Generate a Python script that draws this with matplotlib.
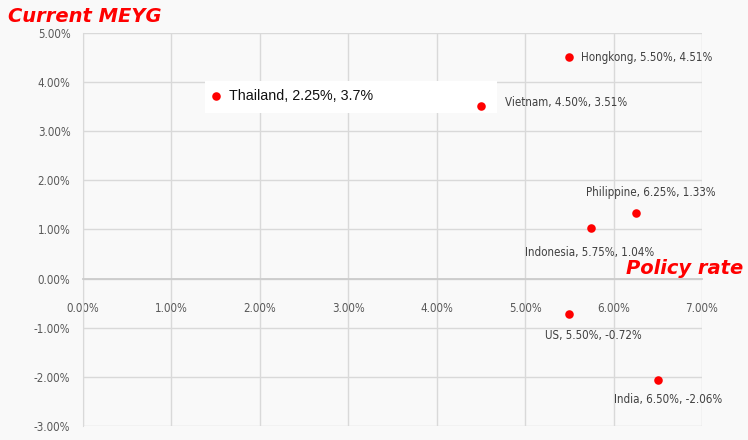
import matplotlib
matplotlib.use('Agg')
import matplotlib.pyplot as plt
from matplotlib.ticker import FuncFormatter

# data (policy rate %, current MEYG %)
countries = ['Hongkong', 'Vietnam', 'Thailand', 'Philippine', 'Indonesia', 'US', 'India']
policy_rate = [5.50, 4.50, 1.50, 6.25, 5.75, 5.50, 6.50]
meyg = [4.51, 3.51, 3.72, 1.33, 1.04, -0.72, -2.06]
labels = ['Hongkong, 5.50%, 4.51%', 'Vietnam, 4.50%, 3.51%', 'Thailand, 2.25%, 3.7%',
          'Philippine, 6.25%, 1.33%', 'Indonesia, 5.75%, 1.04%', 'US, 5.50%, -0.72%',
          'India, 6.50%, -2.06%']

# label offsets in pixels (dx, dy) and alignment
offsets = [(12, 0, 'left'), (24, 4, 'left'), (13, 0, 'left'), (15, 21, 'center'),
           (-2, -25, 'center'), (24, -22, 'center'), (10, -20, 'center')]

bg = '#f9f9f9'
grid_col = '#d9d9d9'
tick_col = '#595959'

fig = plt.figure(figsize=(7.48, 4.40), dpi=100, facecolor=bg)
ax = fig.add_axes([83/748, 1-426/440, (702-83)/748, (426-33)/440], facecolor=bg)

ax.scatter(policy_rate, meyg, s=38, color='#ff0000', zorder=5, linewidths=0)

for i in range(len(countries)):
	dx, dy, ha = offsets[i]
	if countries[i] == 'Thailand':
		ax.annotate(labels[i], (policy_rate[i], meyg[i]), xytext=(dx, dy),
		            textcoords='offset pixels', ha=ha, va='center',
		            fontsize=10.3, family='Liberation Sans', color='#111111', zorder=6)
	else:
		ax.annotate(labels[i], (policy_rate[i], meyg[i]), xytext=(dx, dy),
		            textcoords='offset pixels', ha=ha, va='center',
		            fontsize=8.3, family='DejaVu Sans', stretch='condensed',
		            color='#404040', zorder=6)

# white patch behind the Thailand label (as in the source image)
ax.add_patch(plt.Rectangle((205/748, 1-113/440), (497-205)/748, 32/440,
                           transform=fig.transFigure, facecolor='white',
                           edgecolor='none', zorder=4, clip_on=False))

ax.set_xlim(0, 7)
ax.set_ylim(-3, 5)
ax.set_xticks(range(0, 8))
ax.set_yticks(range(-3, 6))
pct = FuncFormatter(lambda v, p: '%.2f%%' % v)
ax.xaxis.set_major_formatter(pct)
ax.yaxis.set_major_formatter(pct)

ax.grid(True, color=grid_col, lw=1.0)
ax.set_axisbelow(True)
for s in ['top', 'right']:
	ax.spines[s].set_visible(False)
ax.spines['left'].set_color(grid_col)
ax.spines['bottom'].set_position(('data', 0))
ax.spines['bottom'].set_color('#cccccc')
ax.spines['bottom'].set_linewidth(1.3)

ax.tick_params(axis='both', length=0, colors=tick_col, labelsize=8.3)
ax.tick_params(axis='x', pad=17)
ax.tick_params(axis='y', pad=9)
for t in ax.get_xticklabels() + ax.get_yticklabels():
	t.set_family('DejaVu Sans')
	t.set_stretch('condensed')

fig.text(8/748, 1-17/440, 'Current MEYG', color='#ff0000', fontsize=14,
         fontweight='bold', style='italic', va='center', ha='left')
fig.text(743/748, 1-268/440, 'Policy rate', color='#ff0000', fontsize=14,
         fontweight='bold', style='italic', va='center', ha='right')

fig.savefig('out.png', dpi=100, facecolor=bg)
